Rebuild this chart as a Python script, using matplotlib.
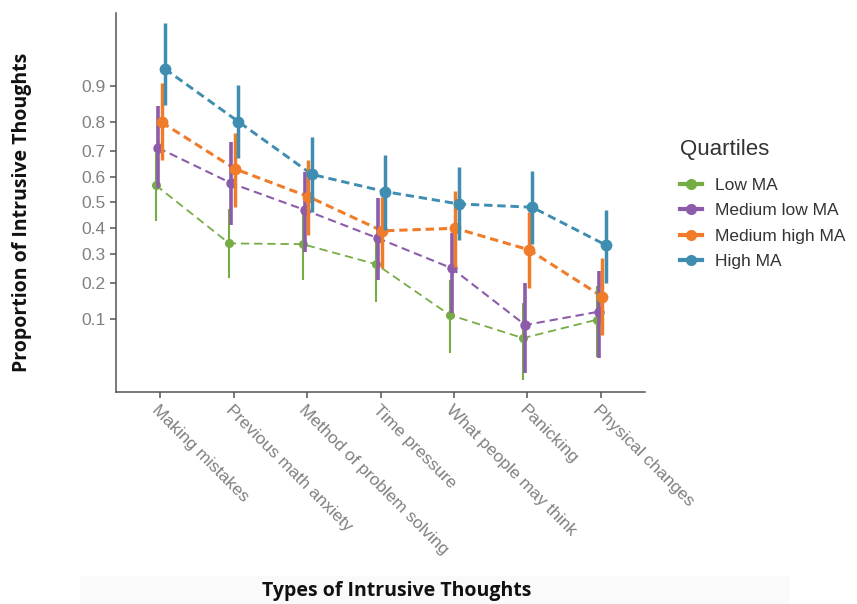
import numpy as np
import matplotlib
matplotlib.use("Agg")
import matplotlib.pyplot as plt
from matplotlib.lines import Line2D
from matplotlib.patches import Rectangle

# ---------------- data ----------------
categories = ["Making mistakes", "Previous math anxiety", "Method of problem solving",
              "Time pressure", "What people may think", "Panicking", "Physical changes"]
series_names = ["Low MA", "Medium low MA", "Medium high MA", "High MA"]

low_ma = [0.569, 0.340, 0.337, 0.264, 0.110, 0.059, 0.098]
low_ma_lo = [0.428, 0.216, 0.210, 0.145, 0.034, 0.006, 0.029]
low_ma_hi = [0.690, 0.473, 0.458, 0.370, 0.210, 0.141, 0.192]

medlow_ma = [0.711, 0.576, 0.470, 0.359, 0.250, 0.086, 0.118]
medlow_ma_lo = [0.556, 0.411, 0.309, 0.210, 0.115, 0.011, 0.028]
medlow_ma_hi = [0.846, 0.733, 0.621, 0.517, 0.379, 0.200, 0.239]

medhigh_ma = [0.798, 0.632, 0.523, 0.388, 0.398, 0.316, 0.159]
medhigh_ma_lo = [0.666, 0.483, 0.372, 0.250, 0.255, 0.185, 0.065]
medhigh_ma_hi = [0.908, 0.764, 0.666, 0.521, 0.547, 0.463, 0.285]

high_ma = [0.937, 0.800, 0.611, 0.543, 0.494, 0.481, 0.334]
high_ma_lo = [0.851, 0.672, 0.463, 0.392, 0.353, 0.338, 0.202]
high_ma_hi = [0.995, 0.902, 0.748, 0.685, 0.641, 0.625, 0.470]

y_ticks = [0.1, 0.2, 0.3, 0.4, 0.5, 0.6, 0.7, 0.8, 0.9]

# ---------------- styles ----------------
colors = ["#76AC45", "#8C5BAA", "#F07C2A", "#3F8DB0"]
offsets = [-0.06, -0.03, 0.02, 0.065]
line_w = [1.3, 1.5, 2.2, 2.1]
bar_w = [1.5, 2.6, 2.5, 2.5]
mk_size = [6.5, 7.5, 8.5, 8.5]

plt.rcParams["lines.scale_dashes"] = False

fig = plt.figure(figsize=(8.57, 6.04), dpi=100)
fig.patches.append(Rectangle((80 / 857, 0), 710 / 857, 28 / 604, transform=fig.transFigure,
                             facecolor="#fafafa", edgecolor="none", zorder=0))
ax = fig.add_axes([116 / 857, 1 - 392 / 604, (645 - 116) / 857, (392 - 13) / 604])


def fwd(p):
    return np.arcsin(np.sqrt(np.clip(p, 0, 1)))


def inv(t):
    return np.sin(np.clip(t, 0, np.pi / 2)) ** 2


ax.set_yscale("function", functions=(fwd, inv))

vals = [low_ma, medlow_ma, medhigh_ma, high_ma]
los = [low_ma_lo, medlow_ma_lo, medhigh_ma_lo, high_ma_lo]
his = [low_ma_hi, medlow_ma_hi, medhigh_ma_hi, high_ma_hi]

x = np.arange(len(categories))
for i in range(4):
    xs = x + offsets[i]
    ax.plot(xs, vals[i], color=colors[i], lw=line_w[i], dashes=(6, 3.5), zorder=2)
for i in range(4):
    xs = x + offsets[i]
    v = np.array(vals[i]); lo = np.array(los[i]); hi = np.array(his[i])
    ax.vlines(xs, lo, hi, color=colors[i], lw=bar_w[i], zorder=3 + i * 0.1)
    ax.plot(xs, v, "o", color=colors[i], ms=mk_size[i], mec="none", zorder=3.05 + i * 0.1)

ax.set_xlim(-0.6, 6.6)
ax.set_ylim(inv(0.031), inv(1.5395))
ax.set_yticks(y_ticks)
ax.set_yticklabels([f"{t:.1f}" for t in y_ticks])
ax.minorticks_off()
ax.set_xticks(x)
ax.set_xticklabels(categories, rotation=-45, ha="left", va="top", rotation_mode="anchor")

for s in ["top", "right"]:
    ax.spines[s].set_visible(False)
for s in ["left", "bottom"]:
    ax.spines[s].set_color("#555555")
    ax.spines[s].set_linewidth(1.1)
ax.tick_params(colors="#555555", width=1.1, length=4.5, labelcolor="#808080",
               labelsize=12.5, pad=3)
for lab in ax.get_xticklabels() + ax.get_yticklabels():
    lab.set_family("Liberation Sans")

fig.text(22 / 857, 1 - 212 / 604, "Proportion of Intrusive Thoughts", rotation=90,
         ha="center", va="center", fontsize=14, fontweight="bold", family="Open Sans",
         color="#111111")
fig.text(397 / 857, 1 - 591 / 604, "Types of Intrusive Thoughts", ha="center", va="center",
         fontsize=14, fontweight="bold", family="Open Sans", color="#111111")

# legend title as separate text for exact spacing
fig.text(680 / 857, 1 - 150 / 604, "Quartiles", ha="left", va="center",
         family="Liberation Sans", fontsize=16, color="#333333")
handles = [Line2D([], [], color=c, lw=3, marker="o", ms=8, mec="none") for c in colors]
leg = fig.legend(handles, series_names, loc="upper left", bbox_to_anchor=(664 / 857, 1 - 162 / 604),
                 frameon=False, handlelength=1.3,
                 handletextpad=0.75, labelspacing=0.6,
                 prop={"family": "Liberation Sans", "size": 12.5})
for t in leg.get_texts():
    t.set_color("#333333")

fig.savefig("out.png", dpi=100)
